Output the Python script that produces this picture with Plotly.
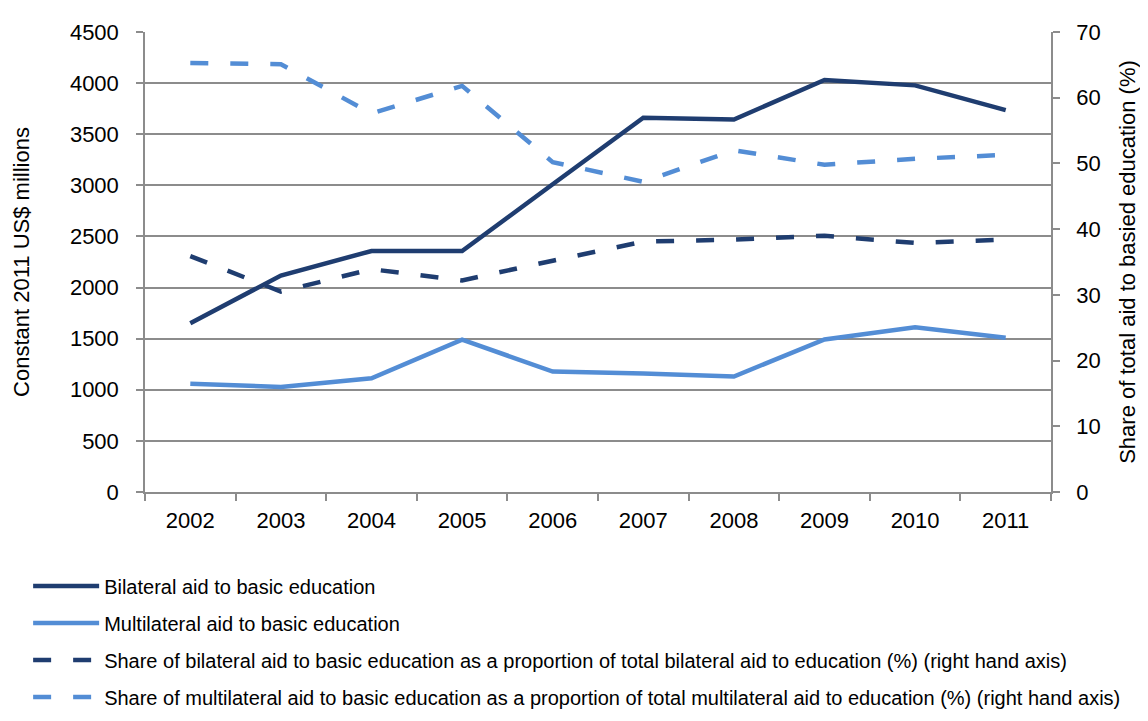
import plotly.graph_objects as go

years = ["2002", "2003", "2004", "2005", "2006", "2007", "2008", "2009", "2010", "2011"]
bilateral = [1650, 2118, 2358, 2358, 3010, 3662, 3644, 4031, 3978, 3736]
multilateral = [1058, 1028, 1112, 1491, 1178, 1160, 1130, 1492, 1612, 1508]
share_bilateral = [35.9, 30.5, 33.9, 32.2, 35.2, 38.1, 38.4, 39.0, 37.9, 38.4]
share_multilateral = [65.3, 65.1, 57.6, 61.8, 50.2, 47.2, 52.0, 49.8, 50.7, 51.3]

names = [
    "Bilateral aid to basic education",
    "Multilateral aid to basic education",
    "Share of bilateral aid to basic education as a proportion of total bilateral aid to education (%) (right hand axis)",
    "Share of multilateral aid to basic education as a proportion of total multilateral aid to education (%) (right hand axis)",
]

DARK = "#1F3D70"
LIGHT = "#538DD5"
DASH = "18px,22px"
FONT = "Liberation Sans, Arial, sans-serif"

fig = go.Figure()
fig.add_trace(go.Scatter(x=years, y=bilateral, name=names[0], mode="lines",
                         line=dict(color=DARK, width=4.5), legendgroup="a"))
fig.add_trace(go.Scatter(x=years, y=multilateral, name=names[1], mode="lines",
                         line=dict(color=LIGHT, width=4.5), legendgroup="b"))
fig.add_trace(go.Scatter(x=years, y=share_bilateral, name=names[2], mode="lines", yaxis="y2",
                         line=dict(color=DARK, width=4.5, dash=DASH), legendgroup="c"))
fig.add_trace(go.Scatter(x=years, y=share_multilateral, name=names[3], mode="lines", yaxis="y2",
                         line=dict(color=LIGHT, width=4.5, dash=DASH), legendgroup="d"))

axis_grey = "#8C8C8C"
fig.update_layout(
    width=1148, height=721,
    margin=dict(l=137, r=105, t=24, b=208),
    paper_bgcolor="white", plot_bgcolor="white",
    font=dict(family=FONT, size=22, color="black"),
    showlegend=True,
    legend=dict(orientation="v", x=-0.129, xanchor="left", y=-0.162, yanchor="top",
                font=dict(size=20, family=FONT), tracegroupgap=8,
                itemwidth=66, bgcolor="rgba(0,0,0,0)"),
    xaxis=dict(type="category", tickson="boundaries", ticks="outside", ticklen=7,
               tickcolor=axis_grey, tickwidth=1.5, showline=True, linecolor=axis_grey,
               linewidth=1.5, showgrid=False, tickfont=dict(size=22), range=[-0.5, 9.5],
               ticklabelstandoff=8),
    yaxis=dict(range=[0, 4500], dtick=500, ticks="outside", ticklen=7, tickcolor=axis_grey,
               tickwidth=1.5, showline=True, linecolor=axis_grey, linewidth=1.5,
               showgrid=True, gridcolor=axis_grey, gridwidth=1.5, zeroline=False,
               ticklabelstandoff=13,
               title=dict(text="Constant 2011 US$ millions", font=dict(size=22), standoff=34),
               tickfont=dict(size=22)),
    yaxis2=dict(range=[0, 70], dtick=10, overlaying="y", side="right", ticks="outside",
                ticklen=7, tickcolor=axis_grey, tickwidth=1.5, showline=True,
                linecolor=axis_grey, linewidth=1.5, showgrid=False, zeroline=False,
                ticklabelstandoff=12,
                title=dict(text="Share of total aid to basied education (%)", font=dict(size=22), standoff=20),
                tickfont=dict(size=22)),
)

fig.write_html("out.html")
